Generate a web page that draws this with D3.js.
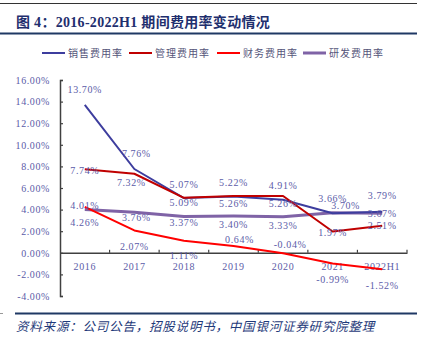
<!DOCTYPE html>
<html>
<head>
<meta charset="utf-8">
<script src="https://cdn.jsdelivr.net/npm/d3@7"></script>
<style>
  body { margin: 0; background: #fff; }
  svg { display: block; }
</style>
</head>
<body>
<svg id="chart" width="427" height="341"></svg>
<script>
(function () {
    'use strict';

    // periods on the x axis
    var years = ['2016', '2017', '2018', '2019', '2020', '2021', '2022H1'];
    var yTicks = [-4, -2, 0, 2, 4, 6, 8, 10, 12, 14, 16];

    // expense ratios, %
    var sellingRate = [13.70, 7.76, 5.07, 5.22, 4.91, 3.66, 3.79];
    var adminRate = [7.74, 7.32, 5.09, 5.26, 5.26, 1.97, 2.51];
    var financeRate = [4.26, 2.07, 1.11, 0.64, -0.04, -0.99, -1.52];
    var rdRate = [4.01, 3.76, 3.37, 3.40, 3.33, 3.70, 3.67];

    var series = [
        { name: '销售费用率', values: sellingRate, color: '#3d3d9e', width: 2,
          dy: [-15, -15, -14, -14, -14, -15, -16], dx: [0, 2, 0, 0, 0, 0, 0] },
        { name: '管理费用率', values: adminRate, color: '#c00000', width: 2,
          dy: [1, 9, 5, 8, 8, 1, 0], dx: [0, -3, 0, 0, 0, 0, 0] },
        { name: '财务费用率', values: financeRate, color: '#ff0000', width: 2,
          dy: [16, 16, 15, -6, -9, 16, 16], dx: [0, 0, 0, 6, 7, 0, 0] },
        { name: '研发费用率', values: rdRate, color: '#7f63a6', width: 3,
          dy: [-4, 5, 6, 8, 9, -7, 0], dx: [0, 2, 0, 0, 0, 13, 0] }
    ];

    var svg = d3.select('#chart');
    var serif = '"Liberation Serif", "Noto Sans CJK SC", serif';
    var labelColor = '#5b5ba8';

    // header rules and title
    svg.append('line').attr('x1', 0).attr('x2', 417).attr('y1', 3.5).attr('y2', 3.5)
        .attr('stroke', '#333').attr('stroke-width', 1);
    svg.append('line').attr('x1', 0).attr('x2', 417).attr('y1', 33.5).attr('y2', 33.5)
        .attr('stroke', '#1f3864').attr('stroke-width', 2);
    svg.append('text')
        .attr('x', 16).attr('y', 27)
        .attr('font-family', serif)
        .attr('font-weight', 'bold')
        .attr('font-size', 14)
        .attr('letter-spacing', 0.3)
        .attr('fill', '#1f2f6e')
        .text('图 4：2016-2022H1 期间费用率变动情况');

    var x = d3.scaleBand().domain(years).range([60, 407]);
    var y = d3.scaleLinear().domain([-4, 16]).range([296, 80]);
    var cx = function (i) { return x(years[i]) + x.bandwidth() / 2; };

    // y axis
    var yAxis = svg.append('g')
        .attr('transform', 'translate(60,0)')
        .call(d3.axisLeft(y).tickValues(yTicks).tickSize(-3).tickPadding(10)
            .tickFormat(function (d) { return d.toFixed(2) + '%'; }));
    yAxis.select('.domain').attr('stroke', '#404040').attr('stroke-width', 1.5);
    yAxis.selectAll('.tick line').attr('stroke', '#404040').attr('stroke-width', 1.2);
    yAxis.selectAll('.tick text')
        .attr('font-family', serif).attr('font-size', 10)
        .attr('letter-spacing', 0.6).attr('fill', labelColor);

    // x axis on the zero line, ticks at the category boundaries
    var xAxis = svg.append('g')
        .attr('transform', 'translate(0,' + y(0) + ')')
        .call(d3.axisBottom(x).tickSize(0).tickPadding(10));
    xAxis.select('.domain').attr('stroke', '#404040').attr('stroke-width', 1.5);
    xAxis.selectAll('.tick text')
        .attr('font-family', serif).attr('font-size', 10)
        .attr('letter-spacing', 0.6).attr('fill', labelColor);
    var bounds = years.map(function (c) { return x(c); }).concat([x.range()[1]]);
    xAxis.selectAll('.bound')
        .data(bounds.slice(1))
        .enter()
        .append('line')
        .attr('class', 'bound')
        .attr('x1', function (d) { return d; }).attr('x2', function (d) { return d; })
        .attr('y1', 0).attr('y2', -3)
        .attr('stroke', '#404040').attr('stroke-width', 1.2);

    // lines
    var line = d3.line()
        .x(function (d, i) { return cx(i); })
        .y(function (d) { return y(d); });

    var drawOrder = [series[3], series[0], series[1], series[2]];
    svg.selectAll('.series')
        .data(drawOrder)
        .enter()
        .append('path')
        .attr('class', 'series')
        .attr('fill', 'none')
        .attr('stroke', function (d) { return d.color; })
        .attr('stroke-width', function (d) { return d.width; })
        .attr('stroke-linejoin', 'round')
        .attr('d', function (d) { return line(d.values); });

    // value labels
    series.forEach(function (s) {
        svg.selectAll(null)
            .data(s.values)
            .enter()
            .append('text')
            .attr('x', function (d, i) { return cx(i) + s.dx[i]; })
            .attr('y', function (d, i) { return y(d) + s.dy[i] + 3.5; })
            .attr('text-anchor', 'middle')
            .attr('font-family', serif)
            .attr('font-size', 10)
            .attr('letter-spacing', 0.6)
            .attr('fill', labelColor)
            .text(function (d) { return d.toFixed(2) + '%'; });
    });

    // legend
    var legendX = [42, 129, 217, 303];
    var legend = svg.selectAll('.legend')
        .data(series)
        .enter()
        .append('g')
        .attr('class', 'legend')
        .attr('transform', function (d, i) { return 'translate(' + legendX[i] + ',53)'; });
    legend.append('line')
        .attr('x1', 0).attr('x2', 23)
        .attr('stroke', function (d) { return d.color; })
        .attr('stroke-width', function (d) { return d.width; });
    legend.append('text')
        .attr('x', 26).attr('y', 4)
        .attr('font-family', '"Noto Sans CJK SC", sans-serif')
        .attr('font-size', 10)
        .attr('letter-spacing', 1)
        .attr('fill', '#55557a')
        .text(function (d) { return d.name; });

    // footer
    svg.append('line').attr('x1', 0).attr('x2', 3).attr('y1', 313.5).attr('y2', 313.5)
        .attr('stroke', '#999').attr('stroke-width', 1);
    svg.append('line').attr('x1', 15).attr('x2', 417).attr('y1', 313.5).attr('y2', 313.5)
        .attr('stroke', '#1f3864').attr('stroke-width', 2);
    svg.append('text')
        .attr('x', 16).attr('y', 331)
        .attr('font-family', '"Noto Sans CJK SC", sans-serif')
        .attr('font-style', 'italic')
        .attr('font-size', 12.5)
        .attr('letter-spacing', 0.8)
        .attr('fill', '#1f3a7a')
        .text('资料来源：公司公告，招股说明书，中国银河证券研究院整理');
}());
</script>
</body>
</html>
